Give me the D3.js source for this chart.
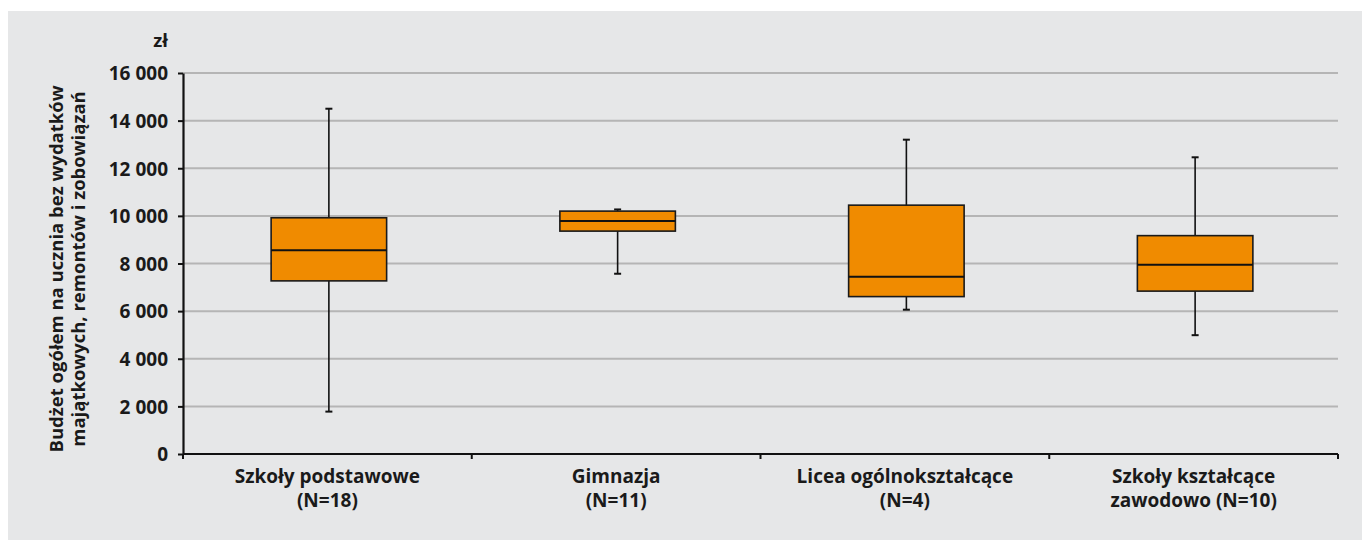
<!DOCTYPE html>
<html>
<head>
<meta charset="utf-8">
<script src="https://cdn.jsdelivr.net/npm/d3@7"></script>
<style>
  html, body { margin: 0; padding: 0; background: #ffffff; }
  svg { display: block; }
  text { font-family: "Open Sans", "Noto Sans", sans-serif; font-weight: 700; fill: #1a1a1a; }
</style>
</head>
<body>
<svg id="chart" width="1362" height="540"></svg>
<script>
// School types (label lines) and box-plot statistics, PLN per pupil
const categories = [
  ["Szkoły podstawowe", "(N=18)"],
  ["Gimnazja", "(N=11)"],
  ["Licea ogólnokształcące", "(N=4)"],
  ["Szkoły kształcące", "zawodowo (N=10)"]
];
const whiskerLow  = [1780, 7570, 6060, 4990];
const quartile1   = [7270, 9360, 6610, 6840];
const medianVal   = [8560, 9790, 7440, 7950];
const quartile3   = [9920, 10200, 10450, 9170];
const whiskerHigh = [14500, 10270, 13200, 12460];

const yTicks = [0, 2000, 4000, 6000, 8000, 10000, 12000, 14000, 16000];
const yUnit = "zł";
const yTitle = ["Budżet ogółem na ucznia bez wydatków", "majątkowych, remontów i zobowiązań"];

const svg = d3.select("#chart");
const W = 1362, H = 540;
const margin = { left: 183, right: 24, top: 73, bottom: 86 };

// panel background
svg.append("rect")
  .attr("x", 8).attr("y", 11)
  .attr("width", W - 8).attr("height", H - 11)
  .attr("fill", "#e6e7e8");

const x = d3.scaleBand()
  .domain(d3.range(categories.length))
  .range([margin.left, W - margin.right])
  .paddingInner(0).paddingOuter(0);

const y = d3.scaleLinear()
  .domain([0, 16000])
  .range([H - margin.bottom, margin.top]);

const fmt = d => d3.format(",")(d).replace(/,/g, "\u00a0");

// horizontal gridlines
svg.append("g")
  .selectAll("line")
  .data(yTicks.filter(d => d > 0))
  .join("line")
  .attr("x1", margin.left).attr("x2", W - margin.right)
  .attr("y1", d => y(d)).attr("y2", d => y(d))
  .attr("stroke", "#b5b5b5").attr("stroke-width", 2);

// y axis
const yAxis = svg.append("g")
  .attr("transform", `translate(${margin.left},0)`)
  .call(d3.axisLeft(y).tickValues(yTicks).tickFormat(fmt).tickSize(5).tickSizeOuter(0).tickPadding(10));
yAxis.select(".domain").attr("stroke", "#111").attr("stroke-width", 2.2);
yAxis.selectAll(".tick line").attr("stroke", "#111").attr("stroke-width", 2);
yAxis.selectAll(".tick text")
  .attr("font-size", 19)
  .attr("font-family", "'Open Sans', sans-serif")
  .attr("font-weight", 700)
  .attr("fill", "#1a1a1a")
  .attr("dy", "0.36em");

// x axis with ticks at category boundaries
const xEdges = d3.range(categories.length + 1).map(i => i < categories.length ? x(i) : x(i - 1) + x.bandwidth());
const xAxisG = svg.append("g");
xAxisG.append("line")
  .attr("x1", margin.left).attr("x2", W - margin.right)
  .attr("y1", y(0)).attr("y2", y(0))
  .attr("stroke", "#111").attr("stroke-width", 2.2);
xAxisG.selectAll("line.tk")
  .data(xEdges)
  .join("line")
  .attr("class", "tk")
  .attr("x1", d => d).attr("x2", d => d)
  .attr("y1", y(0)).attr("y2", y(0) + 5)
  .attr("stroke", "#111").attr("stroke-width", 2);

// category labels
const catG = svg.append("g");
categories.forEach((lines, i) => {
  const cx = x(i) + x.bandwidth() / 2;
  const t = catG.append("text")
    .attr("x", cx)
    .attr("y", 483)
    .attr("text-anchor", "middle")
    .attr("font-size", 19);
  lines.forEach((ln, j) => {
    t.append("tspan")
      .attr("x", cx)
      .attr("dy", j === 0 ? 0 : 23.5)
      .text(ln);
  });
});

// unit label
svg.append("text")
  .attr("x", 168).attr("y", 47)
  .attr("text-anchor", "end")
  .attr("font-size", 18.5)
  .text(yUnit);

// y axis title (two rotated lines)
const ty = svg.append("text")
  .attr("transform", `translate(63,269) rotate(-90)`)
  .attr("text-anchor", "middle")
  .attr("font-size", 18.5);
yTitle.forEach((ln, j) => {
  ty.append("tspan")
    .attr("x", 0)
    .attr("dy", j === 0 ? 0 : 22)
    .text(ln);
});

// box plots
const boxW = x.bandwidth() * 0.4;
const capW = 7;
const boxes = svg.append("g")
  .selectAll("g")
  .data(d3.range(categories.length))
  .join("g")
  .attr("transform", i => `translate(${x(i) + x.bandwidth() / 2 + 1.5},0)`);

boxes.append("line")
  .attr("x1", 0).attr("x2", 0)
  .attr("y1", i => y(whiskerLow[i])).attr("y2", i => y(whiskerHigh[i]))
  .attr("stroke", "#111").attr("stroke-width", 1.6);
boxes.append("line")
  .attr("x1", -capW / 2).attr("x2", capW / 2)
  .attr("y1", i => y(whiskerLow[i])).attr("y2", i => y(whiskerLow[i]))
  .attr("stroke", "#111").attr("stroke-width", 2);
boxes.append("line")
  .attr("x1", -capW / 2).attr("x2", capW / 2)
  .attr("y1", i => y(whiskerHigh[i])).attr("y2", i => y(whiskerHigh[i]))
  .attr("stroke", "#111").attr("stroke-width", 2);
boxes.append("rect")
  .attr("x", -boxW / 2).attr("width", boxW)
  .attr("y", i => y(quartile3[i]))
  .attr("height", i => y(quartile1[i]) - y(quartile3[i]))
  .attr("fill", "#f08b00")
  .attr("stroke", "#1a1a1a").attr("stroke-width", 1.6);
boxes.append("line")
  .attr("x1", -boxW / 2).attr("x2", boxW / 2)
  .attr("y1", i => y(medianVal[i])).attr("y2", i => y(medianVal[i]))
  .attr("stroke", "#111").attr("stroke-width", 2);
</script>
</body>
</html>
